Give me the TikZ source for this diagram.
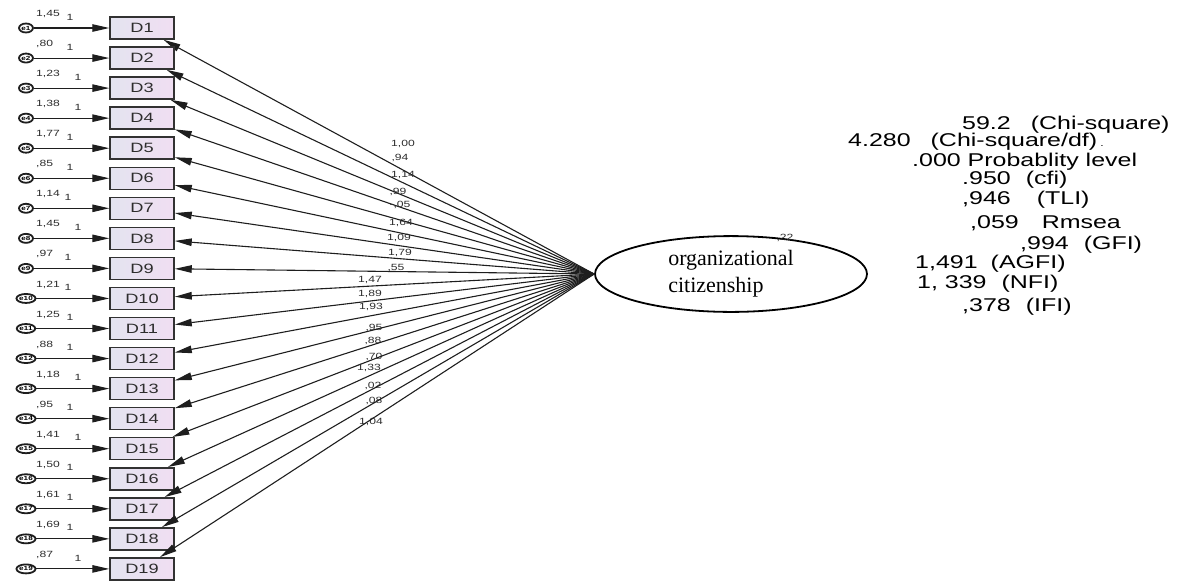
\documentclass[tikz,border=0pt]{standalone}
\usepackage{fontspec}
\setmainfont{Liberation Serif}
\newfontfamily\statfont[FakeStretch=1.35]{Liberation Sans}
\usetikzlibrary{arrows.meta,shapes.geometric}
\definecolor{BoxLeft}{RGB}{228,228,240}
\definecolor{BoxRight}{RGB}{240,222,242}
\definecolor{BoxEdge}{RGB}{50,50,50}
\definecolor{LineGray}{RGB}{30,30,30}
\definecolor{TextGray}{RGB}{45,45,45}
\tikzset{
  itembox/.style={draw=BoxEdge, left color=BoxLeft, right color=BoxRight,
    line width=1.5pt, minimum width=64pt, minimum height=22pt, inner sep=0pt,
    font=\statfont\fontsize{13.5}{14}\selectfont, text=TextGray},
  errnode/.style={ellipse, draw=LineGray, fill=white, line width=1.8pt,
    minimum width=14pt, minimum height=9pt, inner sep=0pt,
    font=\statfont\bfseries\fontsize{6}{6}\selectfont, text=black},
  latent/.style={ellipse, draw=black, fill=white, line width=1.8pt,
    minimum width=272pt, minimum height=68pt, align=left,
    font=\fontsize{22}{27}\selectfont},
  estlabel/.style={font=\statfont\fontsize{9}{9}\selectfont, text=TextGray,
    inner sep=0pt},
  fitline/.style={font=\statfont\fontsize{18.5}{18.5}\selectfont, text=black,
    anchor=base west, inner sep=0pt},
  arrow/.style={-{Triangle[length=17pt,width=7.5pt]}, line width=1.1pt, LineGray}
}
\begin{document}
\begin{tikzpicture}[x=1pt,y=-1pt]
  \useasboundingbox (0,0) rectangle (1184,582);
  % latent factor
  \node[latent] (oc) at (731,274) {organizational\\citizenship};
  \node[estlabel] (r) at (785,238) {,22};
  % indicators with their errors
  \foreach \i/\v/\wx/\l/\lx/\ly [evaluate=\i as \yy using {28+30.05*(\i-1)}] in {
      1/{1,45}/70/{1,00}/403/144, 2/{,80}/70/{,94}/400/158,
      3/{1,23}/78/{1,14}/403/175, 4/{1,38}/78/{,99}/398/192,
      5/{1,77}/70/{-,05}/400/205, 6/{,85}/70/{1,64}/401/223,
      7/{1,14}/68/{1,09}/399/238, 8/{1,45}/78/{1,79}/400/253,
      9/{,97}/68/{,55}/396/268, 10/{1,21}/68/{1,47}/370/280,
      11/{1,25}/70/{1,89}/370/294, 12/{,88}/70/{1,93}/371/307,
      13/{1,18}/78/{,95}/374/328, 14/{,95}/70/{,88}/373/341,
      15/{1,41}/78/{,70}/374/357, 16/{1,50}/70/{1,33}/369/368,
      17/{1,61}/70/{,02}/373/386, 18/{1,69}/70/{,08}/374/401,
      19/{,87}/78/{1,04}/371/422} {
    \node[itembox] (d\i) at (142,\yy) {D\i};
    \node[errnode] (e\i) at (26,\yy) {e\i};
    \node[estlabel, anchor=west] (v\i) at (36,{\yy-14}) {\v};
    \node[estlabel] (w\i) at (\wx,{\yy-11}) {1};
    \node[estlabel] (l\i) at (\lx,\ly) {\l};
    \draw[arrow] (e\i) -- (d\i);
    \draw[arrow] (oc.west) -- (d\i);
  }
  % fit indices
  \node[fitline] (s1) at (962,129.5) {59.2\hspace{20pt}(Chi-square)};
  \node[fitline] (s2) at (848,146.5) {4.280\hspace{20pt}(Chi-square/df)\hspace{3pt}{\fontsize{9}{9}\selectfont .}};
  \node[fitline] (s3) at (912,166.5) {.000 Probablity level};
  \node[fitline] (s4) at (962,184.5) {.950\hspace{15pt}(cfi)};
  \node[fitline] (s5) at (962,204.5) {,946\hspace{26pt}(TLI)};
  \node[fitline] (s6) at (970,228.5) {,059\hspace{23pt}Rmsea};
  \node[fitline] (s7) at (1020,249.5) {,994\hspace{15pt}(GFI)};
  \node[fitline] (s8) at (915,268.5) {1,491\hspace{13pt}(AGFI)};
  \node[fitline] (s9) at (917,288.5) {1, 339\hspace{15pt}(NFI)};
  \node[fitline] (s10) at (962,311.5) {,378\hspace{15pt}(IFI)};
\end{tikzpicture}
\end{document}
